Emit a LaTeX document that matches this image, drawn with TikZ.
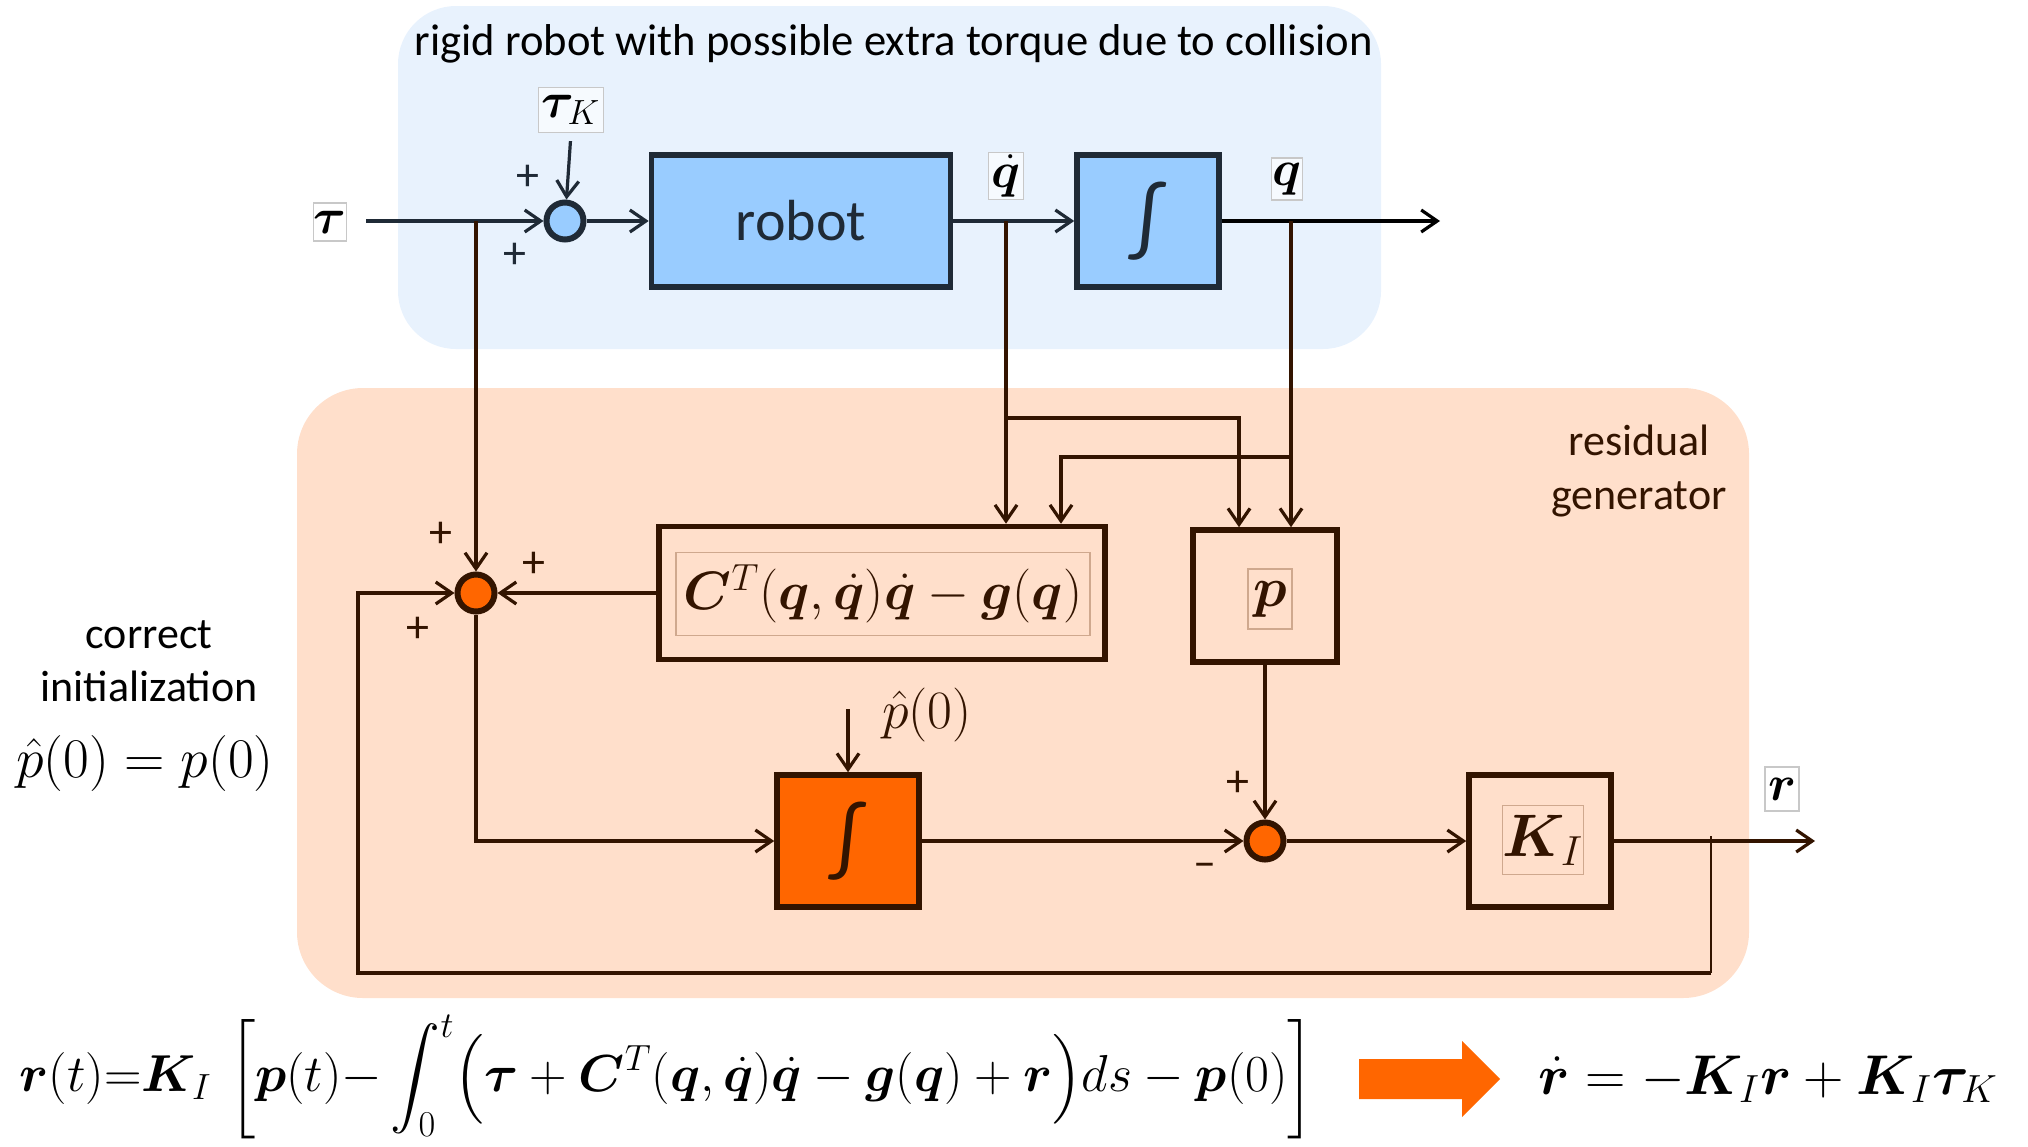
\RequirePackage{fix-cm}
\documentclass[tikz,border=0pt]{standalone}
\usepackage{amsmath}
\usepackage{bm}
\usepackage{fontspec}
\newfontfamily\calfont{Carlito}
\usetikzlibrary{arrows.meta}

\definecolor{bluebg}{HTML}{E8F2FD}
\definecolor{peachbg}{HTML}{FFDFCB}
\definecolor{skyfill}{HTML}{99CCFF}
\definecolor{slate}{HTML}{1F2A36}
\definecolor{darkbrown}{HTML}{331400}
\definecolor{hotorange}{HTML}{FF6600}
\definecolor{framegray}{HTML}{C8C8C8}
\definecolor{framebrown}{HTML}{CFA88E}

\newcommand\fsz[1]{\fontsize{#1}{#1}\selectfont}
\newcommand\fszb[2]{\fontsize{#1}{#2}\selectfont}

\begin{document}
\begin{tikzpicture}[x=0.5pt,y=-0.5pt,
  conn/.style={line width=1.6pt,-{Straight Barb[length=8pt,width=11pt]}},
  bconn/.style={conn,draw=slate},
  oconn/.style={conn,draw=darkbrown},
  sumblue/.style={circle,draw=slate,line width=3pt,fill=skyfill,minimum size=18.5pt,inner sep=0pt},
  sumorange/.style={circle,draw=darkbrown,line width=3pt,fill=hotorange,minimum size=18.5pt,inner sep=0pt},
  bluebox/.style={draw=slate,line width=2.8pt,fill=skyfill,text=slate,inner sep=0pt},
  obox/.style={draw=darkbrown,line width=2.8pt,inner sep=0pt},
  lbl/.style={draw=framegray,line width=0.6pt,fill=white,inner sep=0pt,font=\fsz{25}},
  olbl/.style={draw=framebrown,line width=0.6pt,inner sep=0pt,text=darkbrown},
  sign/.style={font=\calfont\fsz{23},inner sep=0pt},
  caption/.style={font=\calfont\fsz{22},align=center,inner sep=0pt}
]
\useasboundingbox (0,0) rectangle (2028,1146);

% backgrounds of the two subsystems
\fill[bluebg,rounded corners=29pt] (398,6) rectangle (1381,349);
\fill[peachbg,rounded corners=33pt] (297,388) rectangle (1749,998);

\node[caption,font=\calfont\fsz{22.3}] (title) at (894,44) {rigid robot with possible extra torque due to collision};

% ---------------- robot with collision torque ----------------
\node[lbl,minimum width=16.5pt,minimum height=19pt] (tau) at (330,222) {$\boldsymbol\tau$};
\coordinate (tauin) at (366,221);
\node[sumblue] (s1) at (565,221) {};
\node[lbl,fill=bluebg!40!white,minimum width=32.5pt,minimum height=22.5pt] (tauK) at (571,110) {$\boldsymbol\tau_K$};
\node[bluebox,minimum width=149.5pt,minimum height=66pt,font=\calfont\fsz{29}] (robot) at (801,221) {robot};
\node[bluebox,minimum width=71pt,minimum height=66pt,font=\calfont\fsz{42}] (int1) at (1148,221) {∫};
\coordinate (qout) at (1440,221);
\node[lbl,fill=bluebg!40!white,minimum width=17.5pt,minimum height=23.5pt] (qdlab) at (1006,176) {$\dot{\boldsymbol q}$};
\node[lbl,fill=bluebg!40!white,minimum width=15.5pt,minimum height=21pt] (qlab) at (1287,179) {$\boldsymbol q$};
\node[sign,text=slate] (pl1) at (528,178) {+};
\node[sign,text=slate] (pl2) at (515,256) {+};

\draw[bconn] (tauin) -- (s1);
\draw[bconn,shorten <=4pt] (tauK.south) -- (s1);
\draw[bconn] (s1) -- (robot);
\draw[bconn] (robot) -- (int1);
\draw[conn,draw=black] (int1) -- (qout);

% ---------------- residual generator ----------------
\node[caption,text=darkbrown,font=\calfont\fszb{22}{27}] (resid) at (1639,471) {residual\\generator};

\node[sumorange] (s2) at (476,593) {};
\node[obox,minimum width=223pt,minimum height=66.5pt] (C) at (882,593) {};
\node[olbl,minimum width=207pt,minimum height=41.5pt,font=\fsz{27}] (Cexpr) at (883,594)
  {$\boldsymbol C^T(\boldsymbol q,\dot{\boldsymbol q})\dot{\boldsymbol q}-\boldsymbol g(\boldsymbol q)$};
\node[obox,minimum width=72pt,minimum height=66pt] (pbox) at (1265,596) {};
\node[olbl,minimum width=22pt,minimum height=30pt,font=\fsz{28}] (plab) at (1270,599) {$\boldsymbol p$};

\node[obox,fill=hotorange,minimum width=71pt,minimum height=66pt,text=darkbrown,font=\calfont\fsz{42}] (int2) at (848,841) {∫};
\coordinate (p0) at (848,709);
\node[inner sep=0pt,font=\fsz{27},text=darkbrown] (p0lab) at (927,715) {$\hat p(0)$};

\node[sumorange] (s3) at (1265,841) {};
\node[obox,minimum width=71pt,minimum height=66pt] (KI) at (1540,841) {};
\node[olbl,minimum width=38.5pt,minimum height=34.5pt,font=\fsz{30}] (KIlab) at (1543,840) {$\boldsymbol K_I$};
\coordinate (rout) at (1815,841);
\node[lbl,fill=white,minimum width=17pt,minimum height=22pt] (rlab) at (1782,789) {$\boldsymbol r$};

\node[sign,text=darkbrown] (pl3) at (441,535) {+};
\node[sign,text=darkbrown] (pl4) at (534,565) {+};
\node[sign,text=darkbrown] (pl5) at (418,630) {+};
\node[sign,text=darkbrown] (pl6) at (1238,784) {+};
\node[sign,text=darkbrown] (mi1) at (1205,870) {–};

% branch points on the robot signals
\coordinate (tb) at (476,221);
\coordinate (qd) at (1006,221);
\coordinate (qq) at (1291,221);
\coordinate (j1) at (1006,418);
\coordinate (j1e) at (1239,418);
\coordinate (j2) at (1291,457);
\coordinate (j2e) at (1061,457);

\draw[oconn] (tb) -- (s2);
\draw[oconn] (qd) -- (qd |- C.north);
\draw[oconn] (j1) -- (j1e) -- (j1e |- pbox.north);
\draw[oconn] (qq) -- (qq |- pbox.north);
\draw[oconn] (j2) -- (j2e) -- (j2e |- C.north);

\draw[oconn] (C) -- (s2);
\draw[oconn] (s2) |- (int2);
\draw[oconn] (p0) -- (int2);
\draw[oconn] (int2) -- (s3);
\draw[oconn] (pbox) -- (s3);
\draw[oconn] (s3) -- (KI);
\draw[oconn] (KI) -- (rout);

% feedback of the residual
\coordinate (fb) at (1711,836);
\coordinate (fb1) at (1711,973);
\coordinate (fb2) at (358,973);
\draw[darkbrown,line width=0.8pt] (fb) -- (fb1);
\draw[oconn] (fb1) -- (fb2) |- (s2);

% initial condition note
\node[caption,font=\calfont\fszb{22}{26.5}] (init) at (149,661) {correct\\initialization};
\node[inner sep=0pt,font=\fsz{28}] (initeq) at (145,763) {$\hat p(0)=p(0)$};

% residual equations
\node[inner sep=0pt,font=\fsz{26}] (eqr) at (667,1077)
  {$\displaystyle \boldsymbol r(t){=}\boldsymbol K_I\,\left[\boldsymbol p(t){-}\int_0^t\Bigl(\boldsymbol\tau+\boldsymbol C^T(\boldsymbol q,\dot{\boldsymbol q})\dot{\boldsymbol q}-\boldsymbol g(\boldsymbol q)+\boldsymbol r\Bigr)ds-\boldsymbol p(0)\right]$};
\fill[hotorange] (1359,1059) -- (1462,1059) -- (1462,1041) -- (1500,1079) -- (1462,1117) -- (1462,1099) -- (1359,1099) -- cycle;
\node[inner sep=0pt,font=\fsz{28}] (eqdot) at (1768,1079)
  {$\dot{\boldsymbol r}=-\boldsymbol K_I\boldsymbol r+\boldsymbol K_I\boldsymbol\tau_K$};
\end{tikzpicture}
\end{document}
